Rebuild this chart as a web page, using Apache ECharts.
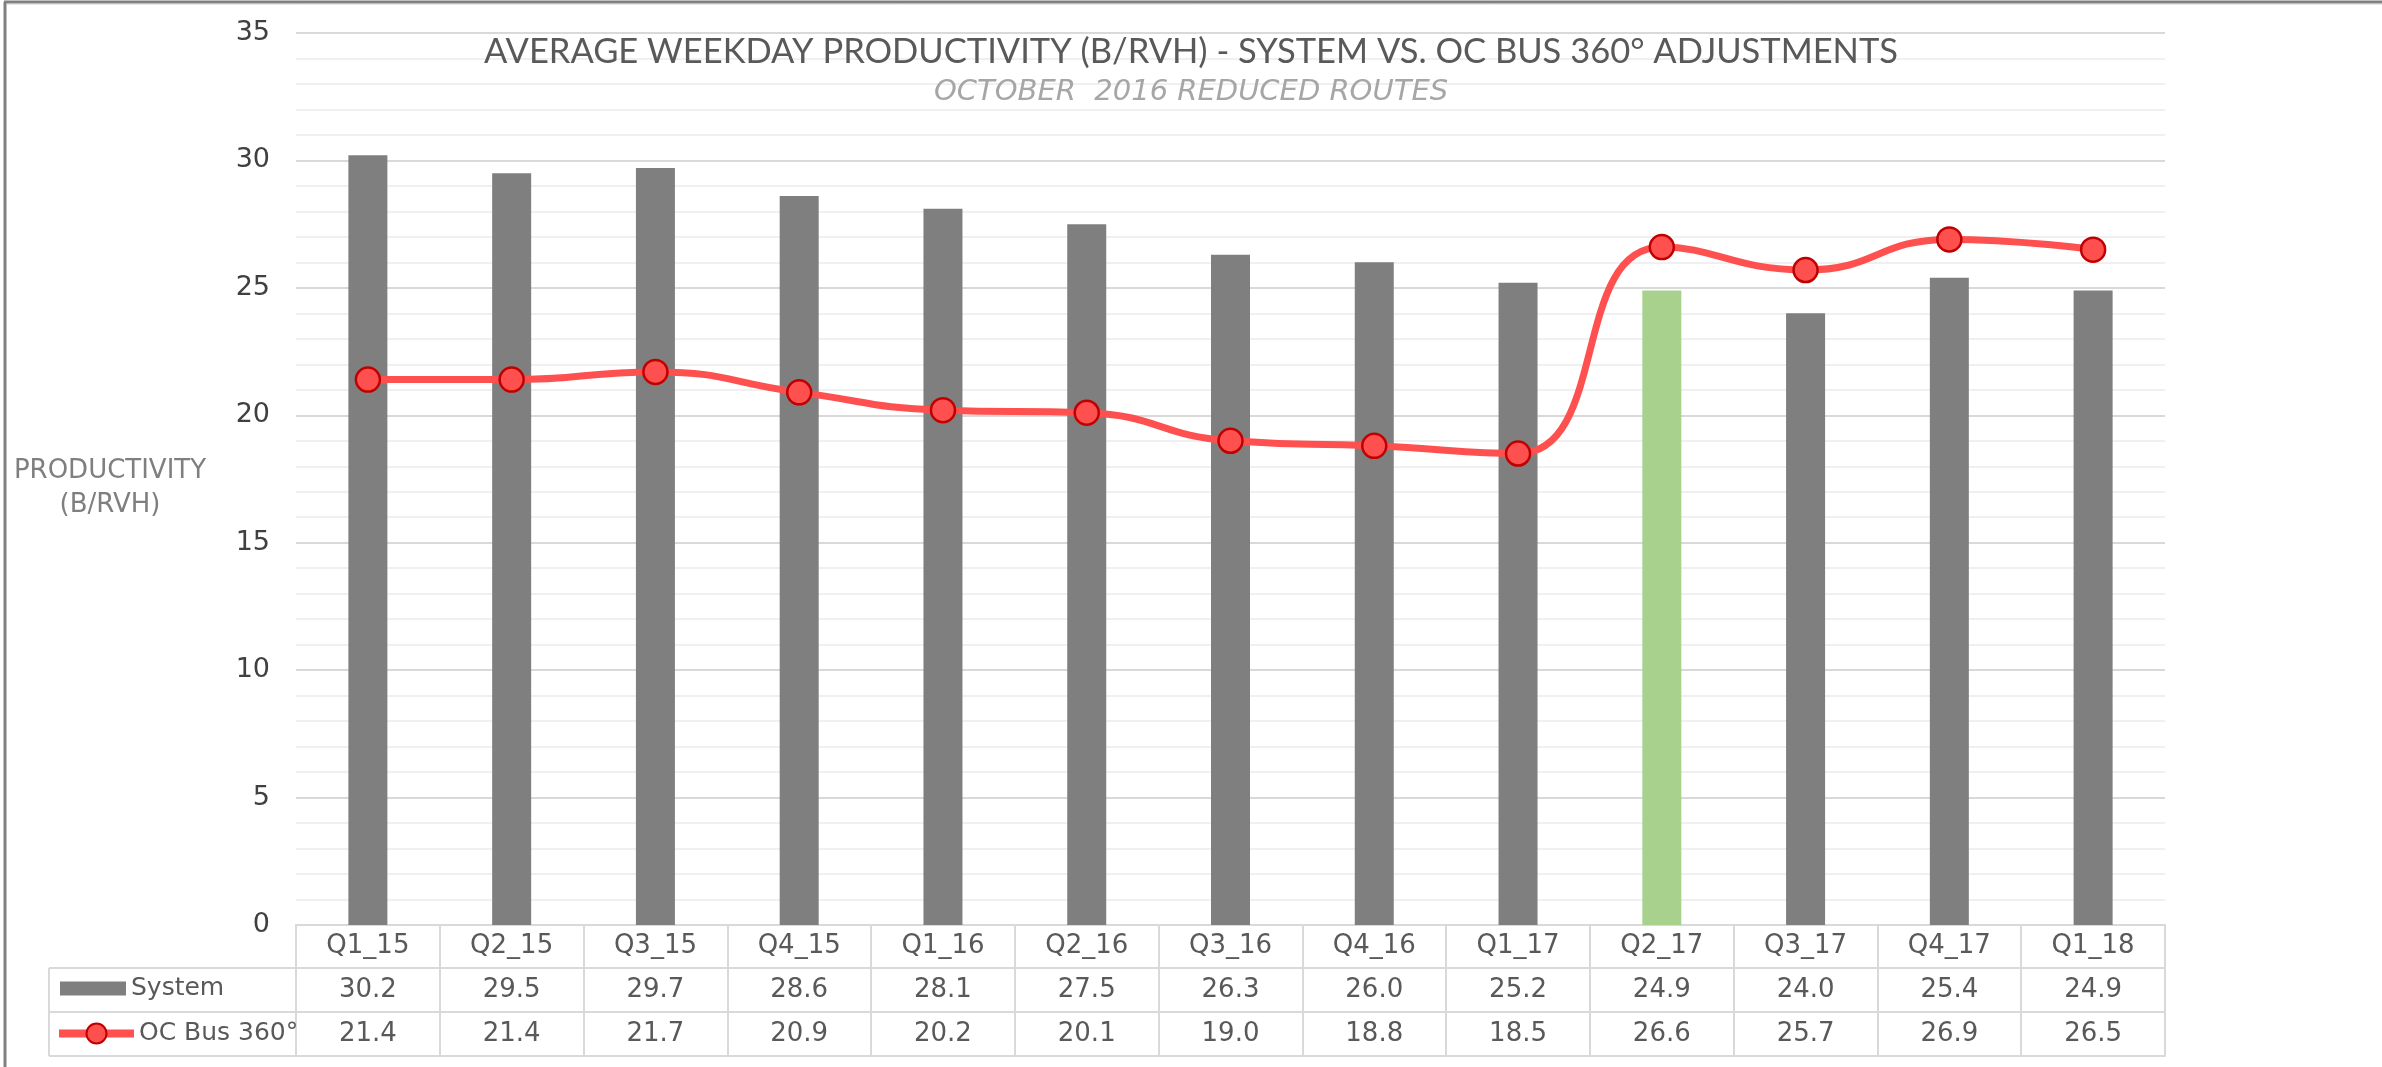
<!DOCTYPE html>
<html>
<head>
<meta charset="utf-8">
<script src="https://cdn.jsdelivr.net/npm/echarts@6/dist/echarts.min.js"></script>
<style>
html,body{margin:0;padding:0;background:#ffffff;}
#chart{width:2382px;height:1067px;}
</style>
</head>
<body>
<div id="chart"></div>
<script>
// ---------------- DATA ----------------
const categories = ['Q1_15','Q2_15','Q3_15','Q4_15','Q1_16','Q2_16','Q3_16','Q4_16','Q1_17','Q2_17','Q3_17','Q4_17','Q1_18'];
const systemValues = [30.2, 29.5, 29.7, 28.6, 28.1, 27.5, 26.3, 26.0, 25.2, 24.9, 24.0, 25.4, 24.9];
const ocBusValues  = [21.4, 21.4, 21.7, 20.9, 20.2, 20.1, 19.0, 18.8, 18.5, 26.6, 25.7, 26.9, 26.5];
const highlightCategory = 'Q2_17';
const yMin = 0, yMax = 35, yInterval = 5;
const seriesNames = ['System', 'OC Bus 360°'];
const titleText = 'AVERAGE WEEKDAY PRODUCTIVITY (B/RVH) - SYSTEM VS. OC BUS 360° ADJUSTMENTS';
const subtitleText = 'OCTOBER  2016 REDUCED ROUTES';
const yAxisName = 'PRODUCTIVITY\n(B/RVH)';

// ---------------- LAYOUT ----------------
const W = 2382, H = 1067;
const gridLeft = 296, gridRightX = 2165, gridTop = 33, gridBottomY = 925;
const rowOffsets = [0, 43, 87, 131];      // table horizontal lines, relative to axis
const legendColLeft = 49;
const tableLine = '#d9d9d9';
const textGray = '#595959';
const tableFont = 'DejaVu Sans';

const chart = echarts.init(document.getElementById('chart'), null, {renderer: 'canvas'});

const barData = systemValues.map((v, i) => categories[i] === highlightCategory
  ? {value: v, itemStyle: {color: '#a9d18e'}}
  : v);

function tableAxis(rowIdx, formatter, showLabels, showTicks) {
  const h = rowOffsets[rowIdx + 1] - rowOffsets[rowIdx];
  return {
    type: 'category',
    gridIndex: 0,
    position: 'bottom',
    offset: rowOffsets[rowIdx],
    data: categories,
    boundaryGap: true,
    axisLine: {show: true, lineStyle: {color: tableLine, width: 2}},
    axisTick: {show: showTicks, interval: 0, alignWithLabel: false, length: h,
               lineStyle: {color: tableLine, width: 2}},
    axisLabel: {show: showLabels, interval: 0, margin: h / 2, verticalAlign: 'middle',
                fontFamily: tableFont, fontSize: 26, color: textGray, formatter: formatter},
    splitLine: {show: false}
  };
}

const option = {
  backgroundColor: '#ffffff',
  animation: false,
  title: [
    {text: titleText, left: 'center', top: 29,
     textStyle: {fontFamily: 'Lato', fontWeight: 'normal', fontSize: 34.5, color: textGray}},
    {text: subtitleText, left: 'center', top: 73,
     textStyle: {fontFamily: 'DejaVu Sans', fontStyle: 'italic', fontWeight: 'normal', fontSize: 29, color: '#a6a6a6'}}
  ],
  grid: {left: gridLeft, right: W - gridRightX, top: gridTop, bottom: H - gridBottomY, containLabel: false},
  xAxis: [
    tableAxis(0, null, true, true),
    tableAxis(1, (v, i) => systemValues[i].toFixed(1), true, true),
    tableAxis(2, (v, i) => ocBusValues[i].toFixed(1), true, true),
    {
      type: 'category', gridIndex: 0, position: 'bottom', offset: rowOffsets[3], data: categories,
      axisLine: {show: true, lineStyle: {color: tableLine, width: 2}},
      axisTick: {show: false}, axisLabel: {show: false}, splitLine: {show: false}
    }
  ],
  yAxis: {
    type: 'value', min: yMin, max: yMax, interval: yInterval,
    axisLine: {show: false}, axisTick: {show: false},
    axisLabel: {margin: 26, fontFamily: tableFont, fontSize: 27, color: '#404040'},
    splitLine: {show: true, lineStyle: {color: '#d9d9d9', width: 2}},
    minorTick: {show: false, splitNumber: 5},
    minorSplitLine: {show: true, lineStyle: {color: '#f0f0f0', width: 2}}
  },
  legend: [
    {data: [seriesNames[0]], left: 60, top: 976, padding: 0, orient: 'horizontal', icon: 'rect',
     itemWidth: 66, itemHeight: 14, selectedMode: false,
     textStyle: {fontFamily: tableFont, fontSize: 25, color: textGray, lineHeight: 14, padding: [3, 0, 0, 0]}},
    {data: [seriesNames[1]], left: 55, top: 1021, padding: 0, orient: 'horizontal',
     itemWidth: 75, itemHeight: 25, selectedMode: false,
     lineStyle: {width: 8},
     textStyle: {fontFamily: tableFont, fontSize: 25, color: textGray, lineHeight: 25}}
  ],
  series: [
    {
      name: seriesNames[0], type: 'bar', xAxisIndex: 0, yAxisIndex: 0,
      data: barData, barWidth: 39,
      itemStyle: {color: '#7f7f7f'}
    },
    {
      name: seriesNames[1], type: 'line', xAxisIndex: 0, yAxisIndex: 0,
      data: ocBusValues, smooth: 0.5,
      lineStyle: {color: '#ff5050', width: 7},
      symbol: 'circle', symbolSize: 24,
      itemStyle: {color: '#ff5050', borderColor: '#c00000', borderWidth: 2.5},
      z: 5
    }
  ],
  graphic: [
    // y-axis title
    {type: 'text', x: 110, y: 488, silent: true,
     style: {text: yAxisName, align: 'center', verticalAlign: 'middle', lineHeight: 34,
             font: '26px "DejaVu Sans"', fill: '#7f7f7f'}},
    // outer frame (left and top)
    {type: 'line', shape: {x1: 5, y1: 2, x2: 5, y2: H}, style: {stroke: '#808080', lineWidth: 3}, silent: true},
    {type: 'line', shape: {x1: 4, y1: 2, x2: W, y2: 2}, style: {stroke: '#808080', lineWidth: 3}, silent: true},
    {type: 'line', shape: {x1: 7, y1: 4.5, x2: W, y2: 4.5}, style: {stroke: '#e6e6e6', lineWidth: 1}, silent: true},
    // legend column of the data table
    {type: 'line', shape: {x1: legendColLeft, y1: gridBottomY + rowOffsets[1], x2: gridLeft, y2: gridBottomY + rowOffsets[1]},
     style: {stroke: tableLine, lineWidth: 2}, silent: true},
    {type: 'line', shape: {x1: legendColLeft, y1: gridBottomY + rowOffsets[2], x2: gridLeft, y2: gridBottomY + rowOffsets[2]},
     style: {stroke: tableLine, lineWidth: 2}, silent: true},
    {type: 'line', shape: {x1: legendColLeft, y1: gridBottomY + rowOffsets[3], x2: gridLeft, y2: gridBottomY + rowOffsets[3]},
     style: {stroke: tableLine, lineWidth: 2}, silent: true},
    {type: 'line', shape: {x1: legendColLeft, y1: gridBottomY + rowOffsets[1], x2: legendColLeft, y2: gridBottomY + rowOffsets[3]},
     style: {stroke: tableLine, lineWidth: 2}, silent: true}
  ]
};

chart.setOption(option);
</script>
</body>
</html>
